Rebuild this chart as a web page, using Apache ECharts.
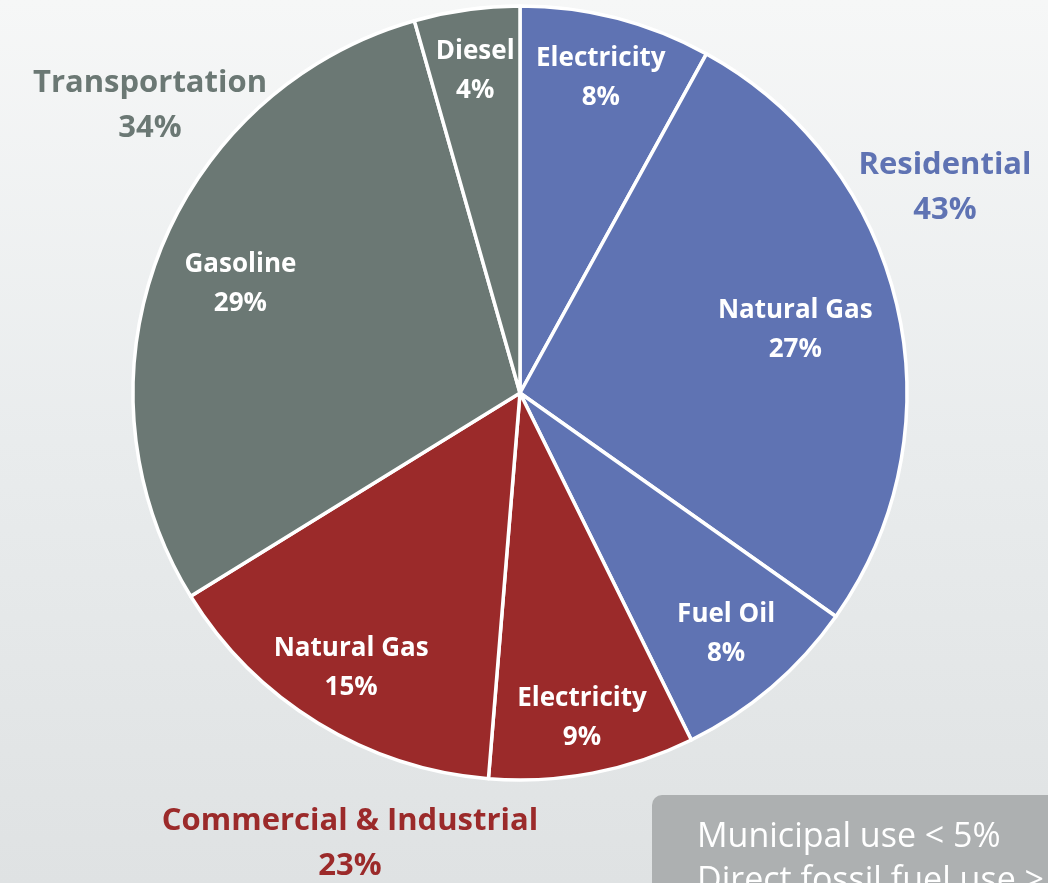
<!DOCTYPE html>
<html>
<head>
<meta charset="utf-8">
<script src="https://cdn.jsdelivr.net/npm/echarts@6/dist/echarts.min.js"></script>
<style>
  html, body { margin: 0; padding: 0; }
  #main { width: 1048px; height: 883px; }
</style>
</head>
<body>
<div id="main"></div>
<script>
// slices, clockwise from 12 o'clock
var sliceNames = ['Electricity', 'Natural Gas', 'Fuel Oil', 'Electricity', 'Natural Gas', 'Gasoline', 'Diesel'];
var sliceValues = [8, 26.8, 7.9, 8.6, 14.9, 29.4, 4.4];
var sliceGroup = [0, 0, 0, 1, 1, 2, 2];

var groupNames = ['Residential', 'Commercial & Industrial', 'Transportation'];
var groupPercents = [43, 23, 34];
var groupColors = ['#5f73b3', '#9b2a2a', '#6b7874'];

var notes = ['Municipal use < 5%', 'Direct fossil fuel use > 95%'];

// how far out the label sits, as part of the radius
var labelRatio = [0.84, 0.73, 0.82, 0.855, 0.835, 0.775, 0.84];

var cx = 520, cy = 393, R = 387;
var font = '"Open Sans", Lato, sans-serif';

var myChart = echarts.init(document.getElementById('main'));

var pieData = sliceValues.map(function (v, i) {
    return {
        name: sliceNames[i],
        value: v,
        itemStyle: { color: groupColors[sliceGroup[i]] }
    };
});

function groupTitle(i, x, y) {
    return {
        text: groupNames[i] + '\n' + groupPercents[i] + '%',
        left: x, top: y, textAlign: 'center',
        textStyle: {
            color: groupColors[i], fontFamily: font, fontWeight: 'bold',
            fontSize: 31, lineHeight: 45, align: 'center'
        }
    };
}

myChart.setOption({
    backgroundColor: {
        type: 'linear', x: 0, y: 0, x2: 0, y2: 1,
        colorStops: [
            { offset: 0, color: '#f6f7f7' },
            { offset: 0.5, color: '#e9eced' },
            { offset: 1, color: '#dfe2e3' }
        ]
    },
    title: [
        groupTitle(2, 145, 56),
        groupTitle(0, 940, 138),
        groupTitle(1, 345, 794)
    ],
    graphic: [
        {
            type: 'rect',
            shape: { x: 652, y: 795, width: 500, height: 200, r: 10 },
            style: { fill: '#adb0b1' }
        },
        {
            type: 'text',
            x: 697, y: 815,
            style: {
                text: notes.join('\n'),
                fill: '#ffffff',
                font: 'normal 34px ' + font,
                lineHeight: 44
            }
        }
    ],
    series: [{
        type: 'pie',
        center: [cx, cy],
        radius: [0, R],
        startAngle: 90,
        clockwise: true,
        silent: true,
        data: pieData,
        itemStyle: { borderColor: '#ffffff', borderWidth: 3.5 },
        label: {
            show: true,
            position: 'inside',
            color: '#ffffff',
            fontFamily: font,
            fontWeight: 'bold',
            fontSize: 26,
            lineHeight: 39,
            formatter: function (p) {
                return p.name + '\n' + Math.round(p.value) + '%';
            }
        },
        labelLine: { show: false },
        labelLayout: function (params) {
            var r = params.labelRect;
            var lx = r.x + r.width / 2 - cx;
            var ly = r.y + r.height / 2 - cy;
            var d = Math.sqrt(lx * lx + ly * ly) || 1;
            var want = labelRatio[params.dataIndex] * R;
            return {
                dx: lx / d * (want - d),
                dy: ly / d * (want - d)
            };
        }
    }]
});
</script>
</body>
</html>
